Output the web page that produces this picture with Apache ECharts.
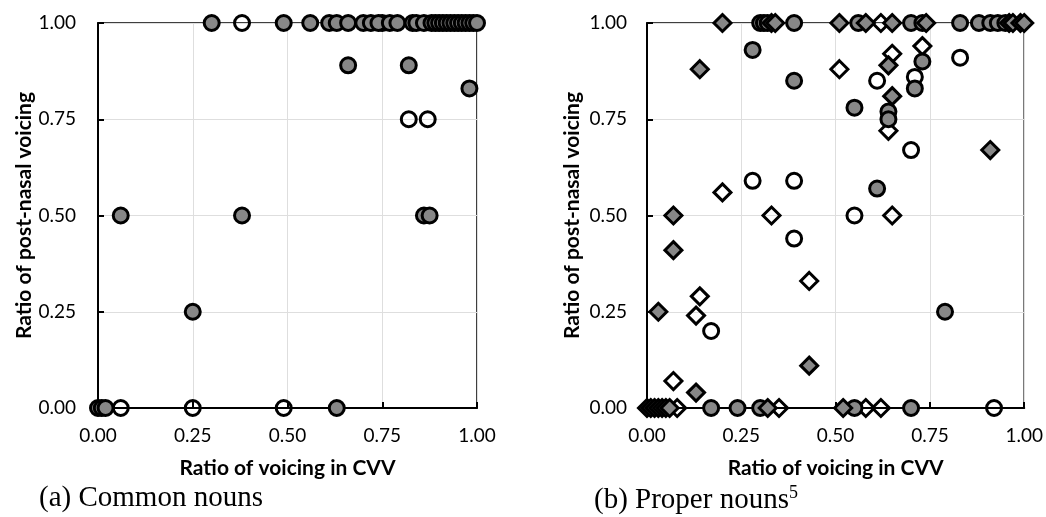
<!DOCTYPE html>
<html>
<head>
<meta charset="utf-8">
<script src="https://cdn.jsdelivr.net/npm/echarts@6/dist/echarts.min.js"></script>
<style>
	html, body { margin: 0; padding: 0; background: #fff; }
	#chart { width: 1046px; height: 517px; }
</style>
</head>
<body>
<div id="chart"></div>
<script>
	// (a) common nouns: [voicing in CVV, post-nasal voicing]
	var commonFilled = [
		[0.30, 1], [0.49, 1], [0.56, 1], [0.61, 1], [0.63, 1], [0.66, 1], [0.70, 1], [0.72, 1],
		[0.74, 1], [0.77, 1], [0.79, 1], [0.83, 1], [0.84, 1], [0.86, 1], [0.88, 1], [0.89, 1],
		[0.90, 1], [0.91, 1], [0.92, 1], [0.93, 1], [0.94, 1], [0.95, 1], [0.96, 1], [0.97, 1],
		[0.98, 1], [0.99, 1], [1.00, 1],
		[0.66, 0.89], [0.82, 0.89], [0.98, 0.83],
		[0.06, 0.50], [0.38, 0.50], [0.86, 0.50], [0.875, 0.50],
		[0.25, 0.25],
		[0.00, 0], [0.01, 0], [0.02, 0], [0.63, 0]
	];
	var commonOpen = [
		[0.38, 1], [0.75, 1], [0.82, 0.75], [0.87, 0.75],
		[0.06, 0], [0.25, 0], [0.49, 0]
	];

	// (b) proper nouns
	var properCircleFilled = [
		[0.30, 1], [0.31, 1], [0.32, 1], [0.39, 1], [0.56, 1], [0.70, 1], [0.73, 1], [0.83, 1],
		[0.88, 1], [0.91, 1], [0.93, 1], [0.95, 1],
		[0.28, 0.93], [0.39, 0.85], [0.73, 0.90], [0.71, 0.83], [0.55, 0.78], [0.64, 0.77],
		[0.64, 0.75], [0.61, 0.57], [0.79, 0.25],
		[0.17, 0], [0.24, 0], [0.30, 0], [0.55, 0], [0.70, 0]
	];
	var properDiamondFilled = [
		[0.20, 1], [0.33, 1], [0.34, 1], [0.51, 1], [0.58, 1], [0.65, 1], [0.74, 1], [0.96, 1],
		[0.97, 1], [0.99, 1], [1.00, 1],
		[0.14, 0.88], [0.64, 0.89], [0.65, 0.81], [0.91, 0.67], [0.07, 0.50], [0.07, 0.41],
		[0.03, 0.25], [0.43, 0.11], [0.13, 0.04],
		[0.00, 0], [0.01, 0], [0.02, 0], [0.03, 0], [0.04, 0], [0.05, 0], [0.06, 0], [0.32, 0], [0.52, 0]
	];
	var properCircleOpen = [
		[0.28, 0.59], [0.39, 0.59], [0.83, 0.91], [0.71, 0.86], [0.61, 0.85], [0.70, 0.67],
		[0.55, 0.50], [0.39, 0.44], [0.17, 0.20], [0.92, 0]
	];
	var properDiamondOpen = [
		[0.62, 1],
		[0.73, 0.94], [0.65, 0.92], [0.51, 0.88], [0.64, 0.72], [0.20, 0.56], [0.33, 0.50],
		[0.65, 0.50], [0.43, 0.33], [0.14, 0.29], [0.13, 0.24], [0.07, 0.07],
		[0.08, 0], [0.35, 0], [0.58, 0], [0.62, 0]
	];

	var xTitle = 'Ratio of voicing in CVV';
	var yTitle = 'Ratio of post-nasal voicing';

	var fillGrey = '#878787';

	function valueAxis(idx, name, nameGap, labelMargin) {
		return {
			gridIndex: idx,
			type: 'value',
			min: 0,
			max: 1,
			interval: 0.25,
			name: name,
			nameLocation: 'middle',
			nameGap: nameGap,
			nameTextStyle: { fontFamily: 'Lato', fontWeight: 'bold', fontSize: 21, color: '#000' },
			axisLine: { show: true, onZero: false, lineStyle: { color: '#000', width: 2 } },
			axisTick: { show: true, inside: true, length: 6, lineStyle: { color: '#000', width: 2 } },
			axisLabel: {
				fontFamily: 'Lato', fontSize: 19, color: '#000', margin: labelMargin,
				formatter: function (v) { return v.toFixed(2); }
			},
			splitLine: { show: true, lineStyle: { color: '#dedede', width: 1 } }
		};
	}

	function scatter(idx, data, symbol, filled) {
		return {
			type: 'scatter',
			xAxisIndex: idx,
			yAxisIndex: idx,
			data: data,
			symbol: symbol,
			symbolSize: symbol === 'diamond' ? 17 : 15,
			clip: false,
			itemStyle: {
				color: filled ? fillGrey : 'rgba(0,0,0,0)',
				borderColor: '#000',
				borderWidth: 3,
				opacity: 1
			},
			emphasis: { disabled: true }
		};
	}

	var chart = echarts.init(document.getElementById('chart'));
	chart.setOption({
		animation: false,
		backgroundColor: '#fff',
		grid: [
			{ left: 98, top: 23, width: 379, height: 385, show: true, borderColor: '#000', borderWidth: 1.5 },
			{ left: 647, top: 23, width: 380, height: 385, show: true, borderColor: '#000', borderWidth: 1.5 }
		],
		xAxis: [valueAxis(0, xTitle, 50, 18), valueAxis(1, xTitle, 50, 18)],
		yAxis: [valueAxis(0, yTitle, 60, 22), valueAxis(1, yTitle, 64, 20)],
		series: [
			scatter(0, commonOpen, 'circle', false),
			scatter(0, commonFilled, 'circle', true),
			scatter(1, properCircleOpen, 'circle', false),
			scatter(1, properDiamondOpen, 'diamond', false),
			scatter(1, properCircleFilled, 'circle', true),
			scatter(1, properDiamondFilled, 'diamond', true)
		],
		graphic: [
			{
				type: 'text', left: 39, top: 484,
				style: { text: '(a) Common nouns', font: '29px "Liberation Serif"', fill: '#000' }
			},
			{
				type: 'text', left: 594, top: 484,
				style: {
					text: '{m|(b) Proper nouns}{s|5}',
					fill: '#000',
					rich: {
						m: { fontFamily: 'Liberation Serif', fontSize: 29, lineHeight: 31, verticalAlign: 'bottom' },
						s: { fontFamily: 'Liberation Serif', fontSize: 18, lineHeight: 31, verticalAlign: 'top' }
					}
				}
			}
		]
	});
</script>
</body>
</html>
